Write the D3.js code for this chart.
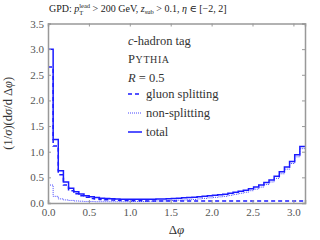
<!DOCTYPE html>
<html>
<head>
<meta charset="utf-8">
<script src="https://cdn.jsdelivr.net/npm/d3@7"></script>
<style>
  body { margin: 0; background: #fff; }
  text { font-family: "Liberation Serif", "DejaVu Serif", serif; }
</style>
</head>
<body>
<div id="chart"></div>
<script>
// 50 bins in Δφ from 0 to π
const nBins = 50;
const total = [3.00, 1.24, 0.63, 0.41, 0.29, 0.22, 0.175, 0.14, 0.12, 0.105,
  0.095, 0.09, 0.085, 0.08, 0.075, 0.075, 0.075, 0.075, 0.075, 0.075,
  0.075, 0.08, 0.08, 0.085, 0.09, 0.095, 0.10, 0.105, 0.11, 0.12,
  0.13, 0.14, 0.15, 0.16, 0.17, 0.19, 0.21, 0.23, 0.25, 0.28,
  0.31, 0.35, 0.40, 0.45, 0.52, 0.61, 0.70, 0.81, 0.94, 1.10];
const gluon = [2.65, 1.11, 0.55, 0.35, 0.24, 0.18, 0.14, 0.11, 0.09, 0.08,
  0.07, 0.065, 0.06, 0.055, 0.05, 0.05, 0.045, 0.045, 0.045, 0.04,
  0.04, 0.04, 0.04, 0.04, 0.04, 0.04, 0.04, 0.04, 0.04, 0.04,
  0.04, 0.04, 0.04, 0.04, 0.04, 0.04, 0.04, 0.04, 0.04, 0.04,
  0.04, 0.04, 0.04, 0.04, 0.04, 0.04, 0.04, 0.04, 0.04, 0.04];
const nonsplit = [0.35, 0.13, 0.08, 0.06, 0.05, 0.04, 0.035, 0.03, 0.03, 0.025,
  0.025, 0.025, 0.025, 0.025, 0.025, 0.025, 0.03, 0.03, 0.03, 0.035,
  0.035, 0.04, 0.04, 0.045, 0.05, 0.055, 0.06, 0.065, 0.07, 0.08,
  0.09, 0.10, 0.11, 0.12, 0.13, 0.15, 0.17, 0.19, 0.21, 0.24,
  0.27, 0.31, 0.36, 0.41, 0.48, 0.57, 0.66, 0.77, 0.90, 1.06];

const xTicks = [0.0, 0.5, 1.0, 1.5, 2.0, 2.5, 3.0];
const yTicks = [0.0, 0.5, 1.0, 1.5, 2.0, 2.5, 3.0, 3.5];

const W = 320, H = 240;
const margin = {left: 48, right: 15, top: 23.5, bottom: 37};
const blue = "#1a1aff";

const svg = d3.select("#chart").append("svg").attr("width", W).attr("height", H);

const x = d3.scaleLinear().domain([0, Math.PI]).range([margin.left, W - margin.right]);
const y = d3.scaleLinear().domain([0, 3.5]).range([H - margin.bottom, margin.top]);

// histogram as step line
const stepLine = d3.line()
  .x(d => x(d[0]))
  .y(d => y(d[1]))
  .curve(d3.curveStepAfter);

const toSteps = (vals) => {
  let pts = vals.map((v, i) => [i * Math.PI / nBins, v]);
  pts.push([Math.PI, vals[vals.length - 1]]);
  return pts;
};

const plot = svg.append("g");

plot.append("path").attr("d", stepLine(toSteps(nonsplit)))
  .attr("fill", "none").attr("stroke", blue).attr("stroke-width", 1)
  .attr("stroke-dasharray", "1,1").attr("opacity", 0.8);
plot.append("path").attr("d", stepLine(toSteps(gluon)))
  .attr("fill", "none").attr("stroke", blue).attr("stroke-width", 1.5)
  .attr("stroke-dasharray", "4,3");
plot.append("path").attr("d", stepLine(toSteps(total)))
  .attr("fill", "none").attr("stroke", blue).attr("stroke-width", 1.5);

// frame and ticks
const gray = "#999";
const x0 = x(0), x1 = x(Math.PI), y0 = y(0), y1 = y(3.5);

const axB = svg.append("g").attr("transform", `translate(0,${y0})`)
  .call(d3.axisBottom(x).tickValues(xTicks).tickSize(-3).tickPadding(5).tickFormat(d3.format(".1f")));
const axT = svg.append("g").attr("transform", `translate(0,${y1})`)
  .call(d3.axisTop(x).tickValues(xTicks).tickSize(-3).tickFormat(""));
const axL = svg.append("g").attr("transform", `translate(${x0},0)`)
  .call(d3.axisLeft(y).tickValues(yTicks).tickSize(-3).tickPadding(4).tickFormat(d3.format(".1f")));
const axR = svg.append("g").attr("transform", `translate(${x1},0)`)
  .call(d3.axisRight(y).tickValues(yTicks).tickSize(-3).tickFormat(""));

for (let ax of [axB, axT, axL, axR]) {
  ax.select(".domain").attr("stroke", gray).attr("stroke-width", 1.5);
  ax.selectAll(".tick line").attr("stroke", gray);
  ax.selectAll("text").attr("fill", "#555").attr("font-size", 11)
    .attr("font-family", "Liberation Serif, serif");
}

// axis titles
svg.append("text").attr("x", (x0 + x1) / 2).attr("y", 234)
  .attr("text-anchor", "middle").attr("font-size", 13).attr("fill", "#333")
  .html('Δ<tspan font-style="italic">φ</tspan>');

svg.append("text").attr("transform", `translate(12,${(y0 + y1) / 2}) rotate(-90)`)
  .attr("text-anchor", "middle").attr("font-size", 12.5).attr("fill", "#333")
  .html('(1/<tspan font-style="italic">σ</tspan>)(d<tspan font-style="italic">σ</tspan>/d Δ<tspan font-style="italic">φ</tspan>)');

// title
svg.append("text").attr("x", 49).attr("y", 12).attr("font-size", 10).attr("fill", "#222")
  .html('GPD: <tspan font-style="italic">p</tspan><tspan font-size="6.5" dy="2.5">T</tspan>'
    + '<tspan font-size="6.5" dx="-4" dy="-6.5">lead</tspan>'
    + '<tspan dy="4"> &gt; 200 GeV,  </tspan><tspan font-style="italic">z</tspan>'
    + '<tspan font-size="6.5" dy="2">sub</tspan><tspan dy="-2"> &gt; 0.1,  </tspan>'
    + '<tspan font-style="italic">η</tspan> ∈ [−2, 2]');

// legend / labels
const lx = 128;
svg.append("text").attr("x", lx).attr("y", 45).attr("font-size", 12.5).attr("fill", "#333")
  .html('<tspan font-style="italic">c</tspan>-hadron tag');
svg.append("text").attr("x", lx).attr("y", 63).attr("font-size", 12.5).attr("fill", "#333")
  .attr("letter-spacing", 0.6)
  .html('P<tspan font-size="10">YTHIA</tspan>');
svg.append("text").attr("x", lx).attr("y", 82).attr("font-size", 12.5).attr("fill", "#333")
  .html('<tspan font-style="italic">R</tspan> = 0.5');

const legendItems = [
  {label: "gluon splitting", dash: "4,3", w: 1.5, op: 1},
  {label: "non-splitting", dash: "1,1", w: 1, op: 0.8},
  {label: "total", dash: null, w: 1.5, op: 1}
];
legendItems.forEach((it, i) => {
  let yy = 94 + i * 19;
  svg.append("line").attr("x1", lx).attr("x2", lx + 14).attr("y1", yy).attr("y2", yy)
    .attr("stroke", blue).attr("stroke-width", it.w).attr("opacity", it.op)
    .attr("stroke-dasharray", it.dash);
  svg.append("text").attr("x", lx + 18).attr("y", yy + 4).attr("font-size", 12.5).attr("fill", "#333")
    .text(it.label);
});
</script>
</body>
</html>
